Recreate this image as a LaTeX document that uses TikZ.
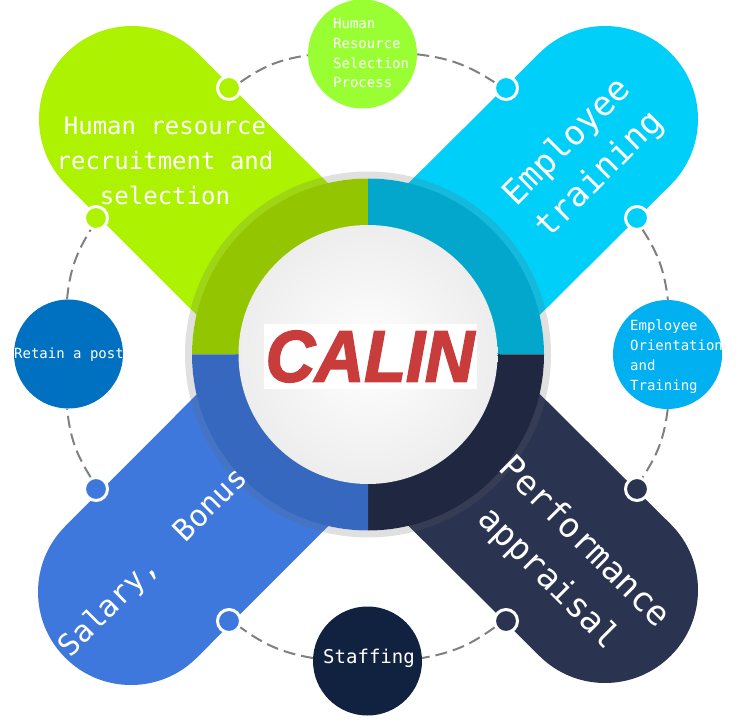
\documentclass[tikz,border=0pt]{standalone}
\usepackage{fontspec}
\setmonofont{DejaVu Sans Mono}
\newfontfamily\logofont[FakeBold=2.5]{Liberation Sans Bold Italic}
\usetikzlibrary{shapes.geometric}
\definecolor{pillgreen}{HTML}{ADF200}
\definecolor{pillcyan}{HTML}{00CFFA}
\definecolor{pillblue}{HTML}{3F78DD}
\definecolor{pillnavy}{HTML}{2A3350}
\definecolor{quadgreen}{HTML}{93C600}
\definecolor{quadcyan}{HTML}{02A7CB}
\definecolor{quadblue}{HTML}{3568BE}
\definecolor{quadnavy}{HTML}{1F2840}
\definecolor{satgreen}{HTML}{99FF33}
\definecolor{satcyan}{HTML}{00B0F0}
\definecolor{satblue}{HTML}{0070C0}
\definecolor{satnavy}{HTML}{112240}
\definecolor{dashgray}{HTML}{808080}
\definecolor{ringgray}{HTML}{646464}
\definecolor{logored}{HTML}{C83C3C}
\tikzset{
  pill/.style={line width=186pt,line cap=round},
  dot/.style={circle,draw=white,line width=3pt,minimum size=23pt,inner sep=0pt},
  sat/.style={circle,minimum size=109pt,inner sep=0pt},
  link/.style={draw=dashgray,line width=2pt,dash pattern=on 12pt off 6pt,bend left=13},
  bigtxt/.style={text=white,align=center,inner sep=0pt,font=\ttfamily\fontsize{34}{46}\selectfont},
  midtxt/.style={text=white,align=center,inner sep=0pt,font=\ttfamily\fontsize{24}{35}\selectfont},
  smalltxt/.style={text=white,align=left,inner sep=0pt,font=\ttfamily\fontsize{14}{20}\selectfont},
}
\begin{document}
\begin{tikzpicture}[x=1pt,y=1pt]
\useasboundingbox (0,0) rectangle (741,721);
\coordinate (C) at (368,366.5);
\coordinate (pTL) at (132,602);
\coordinate (pTR) at (605,602);
\coordinate (pBL) at (131,129);
\coordinate (pBR) at (605,131);
\begin{scope}
\clip (0,0) rectangle (741,721);
\draw[pill,pillgreen] (pTL) -- (C);
\draw[pill,pillcyan] (pTR) -- (C);
\draw[pill,pillblue] (pBL) -- (C);
\draw[pill,pillnavy] (pBR) -- (C);
\end{scope}
\fill[ringgray,opacity=.2,even odd rule] (C) circle (183pt) (C) circle (176pt);
% quadrants
\fill[quadgreen] (C) -- +(180:176pt) arc (180:90:176pt) -- cycle;
\fill[quadcyan] (C) -- +(90:176pt) arc (90:0:176pt) -- cycle;
\fill[quadnavy] (C) -- +(0:176pt) arc (0:-90:176pt) -- cycle;
\fill[quadblue] (C) -- +(-90:176pt) arc (-90:-180:176pt) -- cycle;
\node[circle,minimum size=259pt,inner sep=0pt,inner color=white,outer color=black!7] (hub) at (C) {};
% logo
\node[fill=white,minimum width=213pt,minimum height=65pt,inner sep=0pt] (logobox) at (370.5,364.5) {};
\node[text=logored,inner sep=0pt,xscale=.875,yscale=.93,transform shape,font=\logofont\fontsize{78}{78}\selectfont] (logo) at (370,364.5) {CALIN};
% satellites
\node[sat,fill=satgreen] (top) at (362.5,667) {};
\node[sat,fill=satcyan] (right) at (667.5,366.5) {};
\node[sat,fill=satblue] (left) at (68.5,367) {};
\node[sat,fill=satnavy] (bottom) at (367.5,60) {};
% dots
\node[dot,fill=pillgreen] (dTLa) at (229,633) {};
\node[dot,fill=pillgreen] (dTLb) at (96,503) {};
\node[dot,fill=pillcyan] (dTRa) at (506,633) {};
\node[dot,fill=pillcyan] (dTRb) at (637,503) {};
\node[dot,fill=pillblue] (dBLa) at (229,100) {};
\node[dot,fill=pillblue] (dBLb) at (96,232) {};
\node[dot,fill=pillnavy] (dBRa) at (506,100) {};
\node[dot,fill=pillnavy] (dBRb) at (637,232) {};
% connectors
\draw[link] (dTLa) to (top);
\draw[link] (top) to (dTRa);
\draw[link] (dTRb) to (right);
\draw[link] (right) to (dBRb);
\draw[link] (dBRa) to (bottom);
\draw[link] (bottom) to (dBLa);
\draw[link] (dBLb) to (left);
\draw[link] (left) to (dTLb);
% texts
\node[midtxt] (t1) at (165,560) {Human resource\\recruitment and\\selection};
\node[bigtxt,rotate=45] (t2) at (584,562) {Employee\\training};
\node[bigtxt,rotate=-45,font=\ttfamily\fontsize{34}{51}\selectfont] (t3) at (566,160) {Performance\\appraisal};
\node[bigtxt,rotate=45,font=\ttfamily\fontsize{30}{40}\selectfont] (t4) at (154,158) {Salary,\ \ Bonus};
\node[smalltxt,anchor=west] (t5) at (333,668) {Human\\Resource\\Selection\\Process};
\node[smalltxt,anchor=west] (t6) at (630,364) {Employee\\Orientation\\and\\Training};
\node[smalltxt] (t7) at (69,366) {Retain a post};
\node[text=white,inner sep=0pt,font=\ttfamily\fontsize{19}{19}\selectfont] (t8) at (369,63) {Staffing};
\end{tikzpicture}
\end{document}
